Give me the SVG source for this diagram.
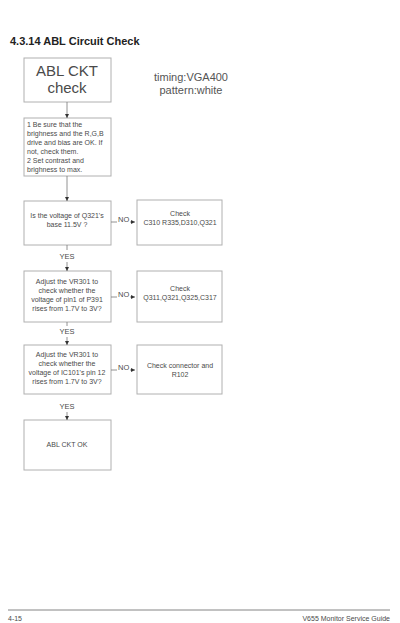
<svg xmlns="http://www.w3.org/2000/svg" width="400" height="623" viewBox="0 0 400 623">
<style>
text{font-family:"Liberation Sans",Arial,sans-serif;fill:#4a4a4a}
.box{fill:#fff;stroke:#b0b0b0;stroke-width:1}
.t{font-size:7px;text-anchor:middle}
.tl{font-size:7px}
.lbl{font-size:7.5px}
.con{stroke:#777;stroke-width:0.8;fill:none}
</style>
<defs>
<marker id="arr" viewBox="0 0 6 6" refX="6" refY="3" markerWidth="5" markerHeight="5" orient="auto"><path d="M0,0 L6,3 L0,6 z" fill="#333"/></marker>
</defs>
<rect width="400" height="623" fill="#fff"/>
<text x="10" y="45" style="font-size:11px;font-weight:bold;fill:#222">4.3.14  ABL Circuit Check</text>
<g id="note">
<text x="191" y="81" style="font-size:11px;text-anchor:middle;fill:#555">timing:VGA400</text>
<text x="191" y="94" style="font-size:11px;text-anchor:middle;fill:#555">pattern:white</text>
</g>
<g id="n1"><rect class="box" x="24" y="58" width="87" height="44"/>
<text x="67" y="76" style="font-size:15px;text-anchor:middle">ABL CKT</text>
<text x="67" y="93" style="font-size:15px;text-anchor:middle">check</text></g>
<g id="n2"><rect class="box" x="24" y="118" width="87" height="58"/>
<text class="tl" x="27" y="127">1 Be sure that the</text>
<text class="tl" x="27" y="136">brighness and the R,G,B</text>
<text class="tl" x="27" y="145">drive and bias are OK. If</text>
<text class="tl" x="27" y="154">not,  check them.</text>
<text class="tl" x="27" y="163">2 Set contrast and</text>
<text class="tl" x="27" y="172">brighness to max.</text></g>
<g id="n3"><rect class="box" x="24" y="201" width="87" height="44"/>
<text class="t" x="67" y="218">Is the voltage of Q321's</text>
<text class="t" x="67" y="227">base 11.5V ?</text></g>
<g id="n4"><rect class="box" x="137" y="200" width="85" height="45"/>
<text class="t" x="180" y="216">Check</text>
<text class="t" x="180" y="225">C310 R335,D310,Q321</text></g>
<g id="n5"><rect class="box" x="24" y="271" width="87" height="51"/>
<text class="t" x="67" y="284">Adjust the VR301 to</text>
<text class="t" x="67" y="293">check whether the</text>
<text class="t" x="67" y="302">voltage of pin1 of P391</text>
<text class="t" x="67" y="311">rises from 1.7V to 3V?</text></g>
<g id="n6"><rect class="box" x="137" y="271" width="85" height="51"/>
<text class="t" x="180" y="291">Check</text>
<text class="t" x="180" y="300">Q311,Q321,Q325,C317</text></g>
<g id="n7"><rect class="box" x="24" y="345" width="87" height="49"/>
<text class="t" x="67" y="357">Adjust the VR301 to</text>
<text class="t" x="67" y="366">check whether the</text>
<text class="t" x="67" y="375">voltage of IC101's pin 12</text>
<text class="t" x="67" y="384">rises from 1.7V to 3V?</text></g>
<g id="n8"><rect class="box" x="137" y="345" width="85" height="49"/>
<text class="t" x="180" y="368">Check connector and</text>
<text class="t" x="180" y="377">R102</text></g>
<g id="n9"><rect class="box" x="24" y="420" width="87" height="50"/>
<text class="t" x="67" y="447">ABL CKT OK</text></g>
<g id="connectors">
<line class="con" x1="67" y1="102" x2="67" y2="118" marker-end="url(#arr)"/>
<line class="con" x1="67" y1="176" x2="67" y2="201" marker-end="url(#arr)"/>
<line class="con" x1="67" y1="245" x2="67" y2="250"/>
<line class="con" x1="67" y1="262" x2="67" y2="271" marker-end="url(#arr)"/>
<line class="con" x1="67" y1="322" x2="67" y2="326"/>
<line class="con" x1="67" y1="337" x2="67" y2="345" marker-end="url(#arr)"/>
<line class="con" x1="67" y1="412" x2="67" y2="420" marker-end="url(#arr)"/>
<line class="con" x1="111" y1="222" x2="117" y2="222"/>
<line class="con" x1="130" y1="222" x2="135" y2="222" marker-end="url(#arr)"/>
<line class="con" x1="111" y1="297" x2="117" y2="297"/>
<line class="con" x1="130" y1="297" x2="135" y2="297" marker-end="url(#arr)"/>
<line class="con" x1="111" y1="370" x2="117" y2="370"/>
<line class="con" x1="130" y1="370" x2="135" y2="370" marker-end="url(#arr)"/>
<text class="lbl" x="118" y="222">NO</text>
<text class="lbl" x="118" y="297">NO</text>
<text class="lbl" x="118" y="370">NO</text>
<text class="lbl" x="67" y="259" text-anchor="middle">YES</text>
<text class="lbl" x="67" y="334" text-anchor="middle">YES</text>
<text class="lbl" x="67" y="409" text-anchor="middle">YES</text>
</g>
<line x1="8" y1="610" x2="390" y2="610" stroke="#666" stroke-width="0.8"/>
<text x="8" y="621" style="font-size:7px">4-15</text>
<text x="390" y="621" style="font-size:7px;text-anchor:end">V655 Monitor Service Guide</text>
</svg>
